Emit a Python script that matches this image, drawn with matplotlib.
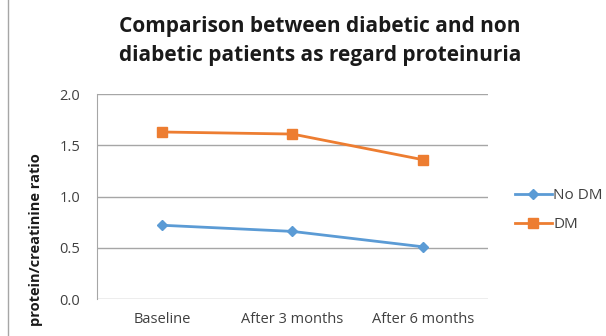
import matplotlib.pyplot as plt
from matplotlib.lines import Line2D

# proteinuria (protein/creatinine ratio) over follow-up
visits = ["Baseline", "After 3 months", "After 6 months"]
no_dm = [0.72, 0.66, 0.51]
dm = [1.63, 1.61, 1.36]
y_ticks = [0.0, 0.5, 1.0, 1.5, 2.0]

plt.rcParams["font.family"] = ["Open Sans", "DejaVu Sans"]

fig = plt.figure(figsize=(6.06, 3.36), dpi=100)
ax = fig.add_axes([0.160, 0.110, 0.645, 0.610])

x = list(range(len(visits)))
ax.plot(x, no_dm, color="#5b9bd5", marker="D", markersize=5, linewidth=2, label="No DM")
ax.plot(x, dm, color="#ed7d31", marker="s", markersize=7, linewidth=2, label="DM")

ax.set_xlim(-0.5, len(visits) - 0.5)
ax.set_ylim(0, 2.0)
ax.set_yticks(y_ticks)
ax.set_yticklabels([f"{v:.1f}" for v in y_ticks])
ax.set_xticks(x)
ax.set_xticklabels(visits)

ax.grid(axis="y", color="#a6a6a6", linewidth=1)
ax.set_axisbelow(True)
for side in ["top", "right", "bottom"]:
    ax.spines[side].set_visible(False)
ax.spines["left"].set_color("#a6a6a6")
ax.tick_params(axis="both", length=0, labelsize=10.5, colors="#404040")
ax.tick_params(axis="y", pad=12)
ax.tick_params(axis="x", pad=9)

fig.text(0.060, 0.286, "protein/creatinine ratio", rotation=90, ha="center", va="center",
         fontsize=10.5, fontweight="bold", color="#1a1a1a")

fig.text(0.528, 0.805, "Comparison between diabetic and non\ndiabetic patients as regard proteinuria",
         ha="center", va="bottom", fontsize=15, fontweight="bold", color="#1a1a1a",
         linespacing=1.45)

handles = [
    Line2D([], [], color="#5b9bd5", marker="D", markersize=5, linewidth=2),
    Line2D([], [], color="#ed7d31", marker="s", markersize=7, linewidth=2),
]
fig.legend(handles, ["No DM", "DM"], loc="center left", bbox_to_anchor=(0.827, 0.375),
           frameon=False, fontsize=11, handlelength=2.4, handletextpad=0.1,
           labelspacing=0.9, labelcolor="#404040")

# outer chart border on the left edge
fig.add_artist(Line2D([0.014, 0.014], [0, 1], transform=fig.transFigure,
                      color="#a6a6a6", linewidth=1))

fig.savefig("out.png", dpi=100)
